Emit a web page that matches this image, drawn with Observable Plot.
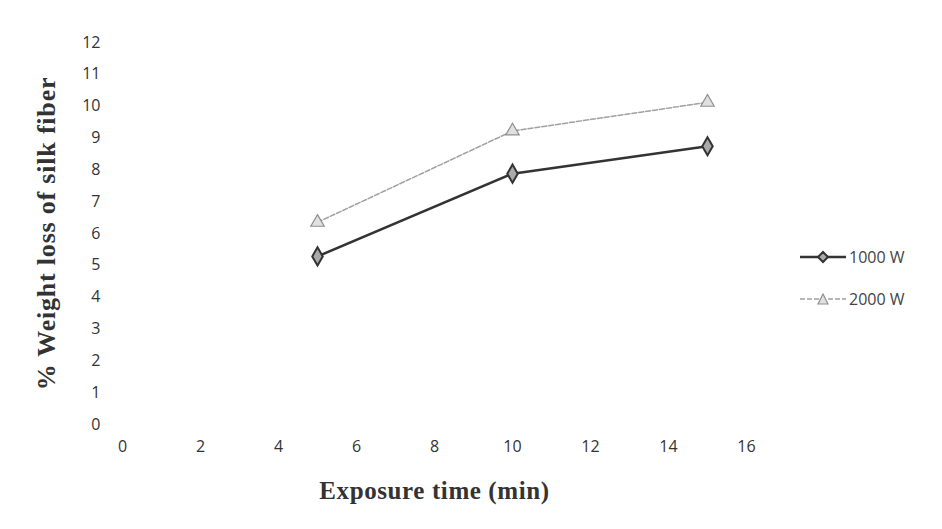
<!DOCTYPE html>
<html><head><meta charset="utf-8">
<script src="https://cdn.jsdelivr.net/npm/d3@7"></script>
<script src="https://cdn.jsdelivr.net/npm/@observablehq/plot@0.6"></script>
<style>
body{margin:0;background:#fff;}
#wrap{position:relative;width:942px;height:529px;}
#legend{position:absolute;left:800px;top:236px;font-family:"Open Sans",sans-serif;font-size:16px;color:#444;}
#legend div{display:flex;align-items:center;height:42px;}
#legend svg{margin-right:3px;}
g[aria-label="x-axis label"] text{letter-spacing:0.6px;}
g[aria-label="y-axis label"] text{letter-spacing:0.8px;}
</style></head>
<body><div id="wrap"><div id="legend"></div></div>
<script>
const times = [5, 10, 15];
const w1000 = [5.28, 7.88, 8.74];
const w2000 = [6.35, 9.22, 10.12];
const seriesNames = ["1000 W", "2000 W"];
const xTicks = [0, 2, 4, 6, 8, 10, 12, 14, 16];
const yTicks = [0,1,2,3,4,5,6,7,8,9,10,11,12];

const rows = [];
times.forEach((t,i)=>{ rows.push({t, v:w1000[i], s:seriesNames[0]}); rows.push({t, v:w2000[i], s:seriesNames[1]}); });
const r1 = rows.filter(d=>d.s===seriesNames[0]);
const r2 = rows.filter(d=>d.s===seriesNames[1]);

const chart = Plot.plot({
  width: 942, height: 529,
  marginLeft: 122, marginRight: 196, marginTop: 42, marginBottom: 105,
  style: {fontFamily: "'Open Sans', sans-serif", fontSize: "16px", color: "#333", background: "#fff"},
  x: {domain: [0, 16]},
  y: {domain: [0, 12]},
  marks: [
    Plot.axisX({ticks: xTicks, tickSize: 0, tickPadding: 16, label: null, fontSize: 16}),
    Plot.axisY({ticks: yTicks, tickSize: 0, tickPadding: 22, label: null, fontSize: 16}),
    Plot.axisX({ticks: [], tickSize: 0, label: "Exposure time (min)", labelAnchor: "center", labelArrow: "none", labelOffset: 74,
      fontFamily: "'Liberation Serif', serif", fontWeight: "bold", fontSize: 25}),
    Plot.axisY({ticks: [], tickSize: 0, label: "% Weight loss of silk fiber", labelAnchor: "center", labelArrow: "none", labelOffset: 86,
      fontFamily: "'Liberation Serif', serif", fontWeight: "bold", fontSize: 26}),
    Plot.line(r2, {x:"t", y:"v", stroke:"#a0a0a0", strokeWidth:1.5, strokeDasharray:"5,2"}),
    Plot.dot(r2, {x:"t", y:"v", symbol:"triangle", r:5, stroke:"#909090", fill:"#e0e0e0", strokeWidth:1.2}),
    Plot.line(r1, {x:"t", y:"v", stroke:"#333", strokeWidth:2.5}),
    Plot.dot(r1, {x:"t", y:"v", symbol:"diamond", r:5.5, stroke:"#333", fill:"#aaa", strokeWidth:2})
  ]
});
document.getElementById("wrap").prepend(chart);
chart.style.position="absolute"; chart.style.left="0"; chart.style.top="0";

const lg = document.getElementById("legend");
lg.innerHTML = `
<div><svg width="46" height="14"><line x1="0" y1="7" x2="46" y2="7" stroke="#333" stroke-width="2.5"/><path d="M23,2 L28,7 L23,12 L18,7Z" fill="#aaa" stroke="#333" stroke-width="2"/></svg>${seriesNames[0]}</div>
<div><svg width="46" height="14"><line x1="0" y1="7" x2="46" y2="7" stroke="#a0a0a0" stroke-width="1.5" stroke-dasharray="5,2"/><path d="M23,2 L28,12 L18,12Z" fill="#e0e0e0" stroke="#909090" stroke-width="1.2"/></svg>${seriesNames[1]}</div>`;
</script></body></html>
